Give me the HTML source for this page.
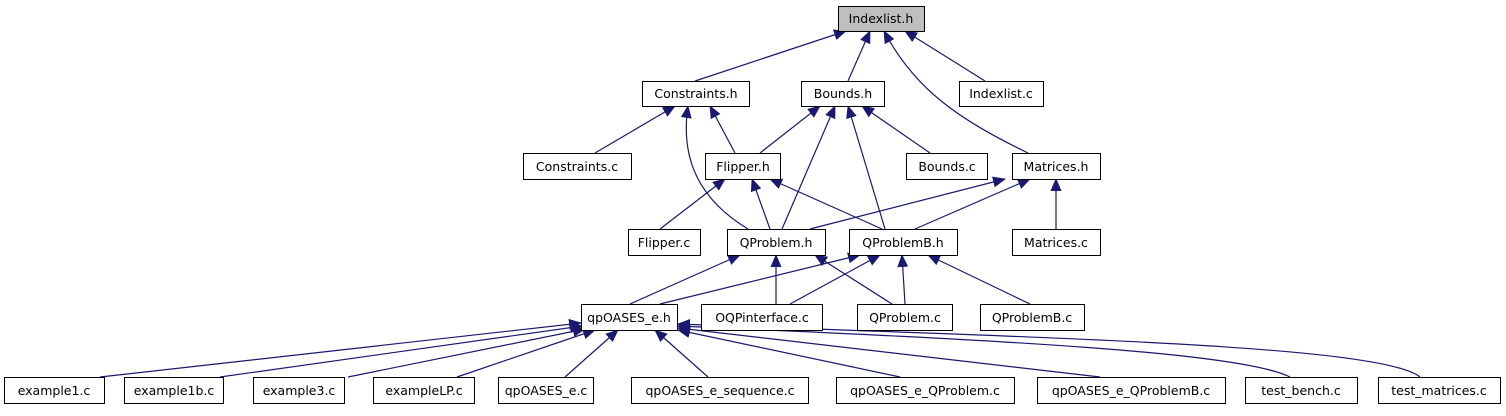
<!DOCTYPE html>
<html><head><meta charset="utf-8"><style>
html,body{margin:0;padding:0;background:#fff;}
svg text{font-family:"DejaVu Sans","Liberation Sans",sans-serif;font-size:12.5px;fill:#000;}
</style></head><body>
<svg width="1506" height="411" viewBox="0 0 1506 411" xmlns="http://www.w3.org/2000/svg">
<defs><marker id="a" markerWidth="13" markerHeight="11" refX="12" refY="5.5" orient="auto" markerUnits="userSpaceOnUse"><path d="M0,0 L13,5.5 L0,11 z" fill="#191970"/></marker></defs>
<g stroke="#191970" stroke-width="1.2" fill="none" marker-end="url(#a)">
<path d="M695,81 L846,31"/>
<path d="M848,81 L870,31"/>
<path d="M1028,153 C960,120 915,90 884,31"/>
<path d="M985,81 L905,31"/>
<path d="M595,153 L675,106"/>
<path d="M735,153 L710,106"/>
<path d="M748,229 C700,200 680,160 688,106"/>
<path d="M760,153 L820,106"/>
<path d="M782,229 L835,106"/>
<path d="M885,229 L848,106"/>
<path d="M930,153 L862,106"/>
<path d="M660,229 L725,179"/>
<path d="M770,229 L752,179"/>
<path d="M882,229 L770,179"/>
<path d="M810,229 L1005,179"/>
<path d="M915,229 L1030,179"/>
<path d="M1056,229 L1056,179"/>
<path d="M630,304 L740,255"/>
<path d="M660,304 L860,255"/>
<path d="M776,304 L776,255"/>
<path d="M790,304 L880,255"/>
<path d="M892,304 L815,255"/>
<path d="M905,304 L902,255"/>
<path d="M1030,304 L928,255"/>
<path d="M100,377 L581,323"/>
<path d="M220,377 L582,326"/>
<path d="M348,377 L585,329"/>
<path d="M457,377 L595,330"/>
<path d="M565,377 L618,330"/>
<path d="M708,377 L655,330"/>
<path d="M900,377 L678,330"/>
<path d="M1100,377 L678,328"/>
<path d="M1290,377 C1240,352 1000,340 678,326"/>
<path d="M1420,377 C1380,345 1050,338 678,324"/>
</g>
<g stroke="#000" stroke-width="1" fill="#fff">
<rect x="838.5" y="6.5" width="86" height="25" fill="#bfbfbf"/>
<rect x="642.5" y="81.5" width="107" height="25"/>
<rect x="801.5" y="81.5" width="83" height="25"/>
<rect x="959.5" y="81.5" width="84" height="25"/>
<rect x="523.5" y="153.5" width="108" height="26"/>
<rect x="705.5" y="153.5" width="75" height="26"/>
<rect x="906.5" y="153.5" width="81" height="26"/>
<rect x="1012.5" y="153.5" width="88" height="26"/>
<rect x="628.5" y="229.5" width="72" height="26"/>
<rect x="727.5" y="229.5" width="98" height="26"/>
<rect x="849.5" y="229.5" width="108" height="26"/>
<rect x="1012.5" y="229.5" width="88" height="26"/>
<rect x="581.5" y="304.5" width="96" height="26"/>
<rect x="701.5" y="304.5" width="121" height="26"/>
<rect x="857.5" y="304.5" width="95" height="26"/>
<rect x="980.5" y="304.5" width="104" height="26"/>
<rect x="4.5" y="377.5" width="100" height="26"/>
<rect x="124.5" y="377.5" width="99" height="26"/>
<rect x="253.5" y="377.5" width="91" height="26"/>
<rect x="373.5" y="377.5" width="101" height="26"/>
<rect x="498.5" y="377.5" width="95" height="26"/>
<rect x="631.5" y="377.5" width="177" height="26"/>
<rect x="836.5" y="377.5" width="178" height="26"/>
<rect x="1037.5" y="377.5" width="188" height="26"/>
<rect x="1245.5" y="377.5" width="112" height="26"/>
<rect x="1378.5" y="377.5" width="122" height="26"/>
</g>
<g text-anchor="middle">
<text x="881" y="23">Indexlist.h</text>
<text x="696" y="98">Constraints.h</text>
<text x="843" y="98">Bounds.h</text>
<text x="1001" y="98">Indexlist.c</text>
<text x="577" y="171">Constraints.c</text>
<text x="743" y="171">Flipper.h</text>
<text x="947" y="171">Bounds.c</text>
<text x="1056" y="171">Matrices.h</text>
<text x="664" y="247">Flipper.c</text>
<text x="776" y="247">QProblem.h</text>
<text x="903" y="247">QProblemB.h</text>
<text x="1056" y="247">Matrices.c</text>
<text x="629" y="322">qpOASES_e.h</text>
<text x="762" y="322">OQPinterface.c</text>
<text x="905" y="322">QProblem.c</text>
<text x="1032" y="322">QProblemB.c</text>
<text x="54" y="395">example1.c</text>
<text x="174" y="395">example1b.c</text>
<text x="299" y="395">example3.c</text>
<text x="424" y="395">exampleLP.c</text>
<text x="546" y="395">qpOASES_e.c</text>
<text x="720" y="395">qpOASES_e_sequence.c</text>
<text x="925" y="395">qpOASES_e_QProblem.c</text>
<text x="1131" y="395">qpOASES_e_QProblemB.c</text>
<text x="1301" y="395">test_bench.c</text>
<text x="1439" y="395">test_matrices.c</text>
</g>
</svg>
</body></html>
